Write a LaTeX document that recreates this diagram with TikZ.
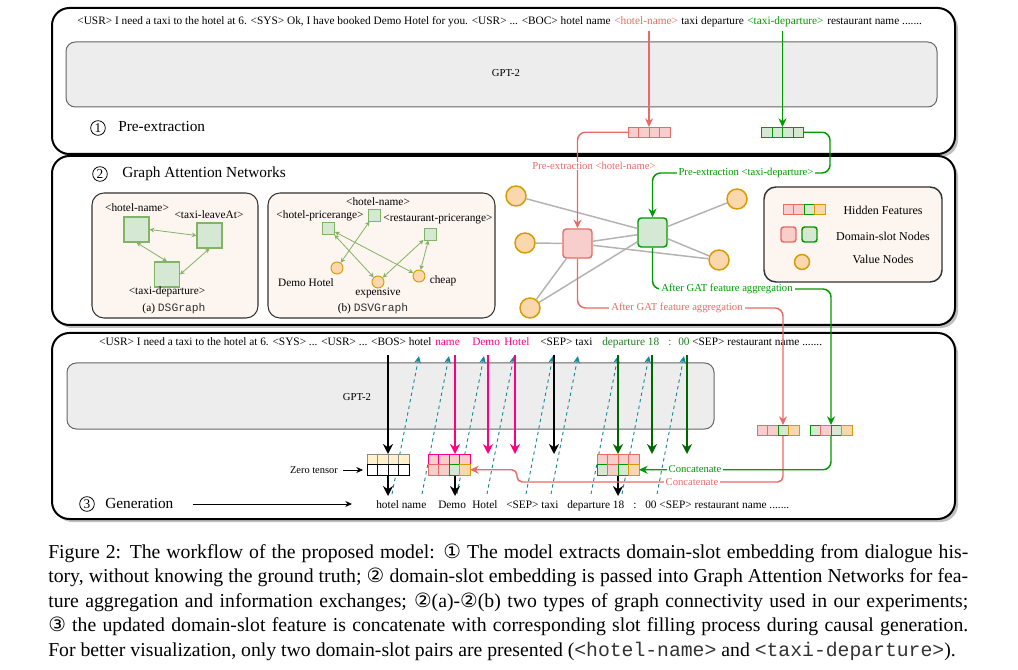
\documentclass[tikz,border=0pt]{standalone}
\usepackage{fontspec}
\setmainfont{Liberation Serif}
\setmonofont{Liberation Mono}
\newfontfamily\circfont{DejaVu Sans}
\usetikzlibrary{arrows.meta}
\definecolor{cred}{HTML}{EA6B66}
\definecolor{credfill}{HTML}{F8CECC}
\definecolor{cgreen}{HTML}{009900}
\definecolor{cgreenfill}{HTML}{D5E8D4}
\definecolor{cgreenlight}{HTML}{82B366}
\definecolor{corange}{HTML}{D79B00}
\definecolor{corangefill}{HTML}{FAD7AC}
\definecolor{cmag}{HTML}{FF0080}
\definecolor{cdkgreen}{HTML}{006600}
\definecolor{ctgreen}{HTML}{1F7F1F}
\definecolor{cteal}{HTML}{1A8A9A}
\definecolor{cgpt}{HTML}{EDEDED}
\definecolor{cpeach}{HTML}{FDF5EF}
\definecolor{cyel}{HTML}{FFF2CC}
\definecolor{cgray}{HTML}{B3B3B3}
\newcommand\cellrow[3]{\foreach \s [count=\i from 0] in {#3} {\draw[cell,\s] ({#1+10.5*\i},#2) rectangle +(10.5,10.5);}}
\tikzset{
 panel/.style={draw=black, line width=1.5pt, rounded corners=13pt, fill=white},
 pshadow/.style={fill=black!25, rounded corners=13pt},
 gpt/.style={draw=black!60, fill=cgpt, line width=0.75pt, rounded corners=7pt},
 txt/.style={font=\fontsize{8.5}{10}\selectfont, inner sep=0pt, anchor=base west},
 lbl/.style={font=\fontsize{8.5}{10}\selectfont, inner sep=0pt},
 clab/.style={font=\fontsize{8}{9.5}\selectfont, fill=white, inner xsep=1.5pt, inner ysep=0.3pt},
 ttl/.style={font=\fontsize{11.5}{13}\selectfont, inner sep=0pt, anchor=base west},
 numc/.style={circle, draw=black, line width=0.6pt, minimum size=11pt, inner sep=0pt, font=\fontsize{10}{11}\selectfont},
 cell/.style={line width=0.7pt},
 rc/.style={fill=credfill, draw=cred},
 gc/.style={fill=cgreenfill, draw=cgreen},
 oc/.style={fill=corangefill, draw=corange},
 mc/.style={fill=credfill, draw=cmag},
 yc/.style={fill=cyel, draw=black!45},
 wc/.style={fill=white, draw=black},
 vecbox/.style={minimum width=31.5pt, minimum height=7.875pt, inner sep=0pt, outer sep=0pt},
 vecbb/.style={minimum width=31.5pt, minimum height=15.75pt, inner sep=0pt, outer sep=0pt},
 redln/.style={draw=cred, line width=1.1pt, rounded corners=6pt},
 grnln/.style={draw=cgreen, line width=1.1pt, rounded corners=6pt},
 endarr/.style={-{Stealth[length=6.5pt,width=6pt]}},
 bigarr/.style={line width=1.1pt, -{Stealth[length=7.5pt,width=7.5pt]}},
 dsr/.style={draw=cred, fill=credfill, line width=1.1pt, rounded corners=2.5pt, minimum size=21.75pt, inner sep=0pt},
 dsg/.style={draw=cgreen, fill=cgreenfill, line width=1.1pt, rounded corners=2.5pt, minimum size=21.75pt, inner sep=0pt},
 valn/.style={circle, draw=corange, fill=corangefill, line width=1.1pt, minimum size=15pt, inner sep=0pt},
 gedge/.style={draw=cgray, line width=1.1pt},
 sqa/.style={draw=cgreenlight, fill=cgreenfill, line width=0.8pt, minimum size=18.75pt, inner sep=0pt},
 sqb/.style={draw=cgreenlight, fill=cgreenfill, line width=0.7pt, minimum size=9pt, inner sep=0pt},
 valb/.style={circle, draw=corange, fill=corangefill, line width=0.7pt, minimum size=9pt, inner sep=0pt},
 biarr/.style={draw=cgreenlight, line width=0.6pt, {Stealth[length=3.5pt,width=3.5pt]}-{Stealth[length=3.5pt,width=3.5pt]}},
 subbox/.style={draw=black!80, fill=cpeach, line width=0.8pt, rounded corners=9pt},
 dasharr/.style={draw=cteal, line width=0.7pt, dash pattern=on 2.5pt off 2.5pt, -{Stealth[length=5.5pt,width=5pt]}},
 capl/.style={font=\fontsize{14.8}{17}\selectfont, inner sep=0pt, anchor=base west},
 legt/.style={font=\fontsize{9}{11}\selectfont, inner sep=0pt},
}
\newcommand\mono[1]{{\color{black!80}\texttt{#1}}}
\begin{document}
\begin{tikzpicture}[x=0.75pt,y=-0.75pt]
\useasboundingbox (0,0) rectangle (1018,670);
\fill[white] (0,0) rectangle (1018,670);
% ---------------- panels
\fill[pshadow] (55,11) rectangle (958,157);
\draw[panel] (52,8) rectangle (955,154);
\fill[pshadow] (55,159) rectangle (958,328);
\draw[panel] (52,156) rectangle (955,325);
\fill[pshadow] (55,336) rectangle (958,522);
\draw[panel] (52,333) rectangle (955,519);

% ---------------- panel 1
\draw[gpt] (66,42) rectangle (937,107);
\node[lbl, font=\fontsize{8}{9}\selectfont] (gptl1) at (506,73) {GPT-2};
\node[txt, anchor=base east] (t1a) at (611,25) {<USR> I need a taxi to the hotel at 6. <SYS> Ok, I have booked Demo Hotel for you. <USR> ... <BOC> hotel name};
\node[txt, text=cred] (t1b) at (614,25) {<hotel-name>};
\node[txt] (t1c) at (681,25) {taxi departure};
\node[txt, text=cgreen] (t1d) at (747,25) {<taxi-departure>};
\node[txt] (t1e) at (827,25) {restaurant name .......};
\node[numc] (n1) at (98,128) {1};
\node[ttl] (ttl1) at (118,132) {Pre-extraction};
\node[vecbox] (hv) at (649,132.25) {};
\node[vecbox] (tv) at (782.5,132.25) {};
\coordinate (hn0) at (649,31);
\coordinate (tn0) at (782.5,31);
\draw[draw=cred, line width=0.8pt, endarr] (hn0) -- (hv.north);
\draw[draw=cgreen, line width=0.8pt, endarr] (tn0) -- (tv.north);

% ---------------- panel 2
\node[numc] (n2) at (100,174) {2};
\node[ttl] (ttl2) at (122,178) {Graph Attention Networks};
% (a)
\draw[subbox] (92,193) rectangle (258,318);
\node[sqa] (aH) at (136.5,229.5) {};
\node[sqa] (aL) at (209.5,235.5) {};
\node[sqa] (aD) at (167,274.5) {};
\node[lbl] (aHl) at (137,208) {<hotel-name>};
\node[lbl] (aLl) at (209,215) {<taxi-leaveAt>};
\node[lbl] (aDl) at (167,292) {<taxi-departure>};
\node[lbl] (acap) at (174,309) {(a) \mono{DSGraph}};
\draw[biarr] (aH.east) -- (aL.west);
\draw[biarr] (aH.south) -- (aD.north);
\draw[biarr] (aL.south) -- (aD.east);
% (b)
\draw[subbox] (268,193) rectangle (495,318);
\node[sqb] (bH) at (374,215) {};
\node[sqb] (bP) at (328.5,228.5) {};
\node[sqb] (bR) at (430,234) {};
\node[valb] (bDH) at (337,268) {};
\node[valb] (bE) at (378,282) {};
\node[valb] (bC) at (419,276) {};
\node[lbl] (bHl) at (378,202) {<hotel-name>};
\node[lbl] (bPl) at (320,216) {<hotel-pricerange>};
\node[lbl] (bRl) at (438,219) {<restaurant-pricerange>};
\node[lbl] (bDHl) at (306,283) {Demo Hotel};
\node[lbl] (bEl) at (378,293) {expensive};
\node[lbl] (bCl) at (443,281) {cheap};
\node[lbl] (bcap) at (373,309) {(b) \mono{DSVGraph}};
\draw[biarr] (bH) -- (bDH);
\draw[biarr] (bP) -- (bE);
\draw[biarr] (bP) -- (bC);
\draw[biarr] (bR) -- (bE);
\draw[biarr] (bR) -- (bC);
% big graph
\node[dsr] (rn) at (577.5,243.5) {};
\node[dsg] (gn) at (652.5,232.5) {};
\node[valn] (v1) at (516,196) {};
\node[valn] (v2) at (525,243) {};
\node[valn] (v3) at (530,308) {};
\node[valn] (v4) at (737,199) {};
\node[valn] (v5) at (719,260) {};
\draw[gedge] (v1) -- (gn);
\draw[gedge] (v2) -- (rn);
\draw[gedge] (v3) -- (rn);
\draw[gedge] (v3) -- (gn);
\draw[gedge] (rn) -- (gn);
\draw[gedge] (rn) -- (v5);
\draw[gedge] (gn) -- (v4);
\draw[gedge] (gn) -- (v5);
% legend
\draw[subbox, draw=black!80, line width=1.1pt] (764,187) rectangle (942,282);
\cellrow{783}{204}{rc,rc,gc,oc}
\node[legt] (lg1) at (883,210) {Hidden Features};
\node[dsr, minimum size=11.25pt, rounded corners=2pt] (lgr) at (788.5,234.5) {};
\node[dsg, minimum size=11.25pt, rounded corners=2pt] (lgg) at (809.5,234.5) {};
\node[legt] (lg2) at (883,236) {Domain-slot Nodes};
\node[valn, minimum size=11.25pt] (lgv) at (802,262) {};
\node[legt] (lg3) at (883,259) {Value Nodes};

% ---------------- panel 3
\draw[gpt] (67,363) rectangle (714,429);
\node[lbl, font=\fontsize{8}{9}\selectfont] (gptl2) at (357,397) {GPT-2};
\node[txt] (u1) at (99,346) {<USR> I need a taxi to the hotel at 6. <SYS> ... <USR> ... <BOS> hotel};
\node[txt, text=cmag] (u2) at (435,346) {name};
\node[txt, text=cmag] (u3) at (472,346) {Demo};
\node[txt, text=cmag] (u4) at (504,346) {Hotel};
\node[txt] (u5) at (540,346) {<SEP> taxi};
\node[txt, text=ctgreen] (u6) at (602,346) {departure 18};
\node[txt, text=ctgreen] (u7) at (668,346) {:};
\node[txt, text=ctgreen] (u8) at (678,346) {00};
\node[txt] (u9) at (692,346) {<SEP> restaurant name .......};
\node[txt] (o1) at (376,508) {hotel name};
\node[txt] (o2) at (438,508) {Demo};
\node[txt] (o3) at (472,508) {Hotel};
\node[txt] (o4) at (506,508) {<SEP> taxi};
\node[txt] (o5) at (567,508) {departure 18};
\node[txt] (o6) at (633,508) {:};
\node[txt] (o7) at (645,508) {00 <SEP> restaurant name .......};
\node[numc] (n3) at (87,504) {3};
\node[ttl] (ttl3) at (105,508) {Generation};
\coordinate (ga0) at (193,504);
\coordinate (ga1) at (352,504);
\draw[line width=0.6pt, -{Stealth[length=5pt,width=4.5pt]}] (ga0) -- (ga1);
\node[lbl, font=\fontsize{7.8}{9}\selectfont, anchor=east] (zl) at (338,470) {Zero tensor};
\coordinate (za1) at (363,470);
\draw[line width=0.6pt, -{Stealth[length=5pt,width=4.5pt]}] ([xshift=3.75pt]zl.east) -- (za1);
% vectors (named)
\node[vecbb] (zt) at (388,464.5) {};
\node[vecbb] (mv) at (449,464.5) {};
\node[vecbb] (gv) at (618,464.5) {};
\node[vecbox] (rv) at (778,430.25) {};
\node[vecbox] (gw) at (831,430.25) {};
% dashed arrows
\foreach \t [count=\k] in {419,449,484,514,553,578,618,649,684} {
  \coordinate (dl\k) at (\t-27,494);
  \coordinate (dh\k) at (\t,356);
  \draw[dasharr] (dl\k) -- (dh\k);
}
% solid arrows
\coordinate (sb1) at (388,355);
\coordinate (sm1) at (455,355); \coordinate (em1) at (455,454);
\coordinate (sm2) at (488,355); \coordinate (em2) at (488,454);
\coordinate (sm3) at (515,355); \coordinate (em3) at (515,454);
\coordinate (sb2) at (554,355); \coordinate (eb2) at (554,454);
\coordinate (sg1) at (618,355);
\coordinate (sg2) at (652,355); \coordinate (eg2) at (652,454);
\coordinate (sg3) at (687,355); \coordinate (eg3) at (687,454);
\draw[bigarr, draw=black] (sb1) -- (zt.north);
\draw[bigarr, draw=cmag] (sm1) -- (em1);
\draw[bigarr, draw=cmag] (sm2) -- (em2);
\draw[bigarr, draw=cmag] (sm3) -- (em3);
\draw[bigarr, draw=black] (sb2) -- (eb2);
\draw[bigarr, draw=cdkgreen] (sg1) -- (gv.north);
\draw[bigarr, draw=cdkgreen] (sg2) -- (eg2);
\draw[bigarr, draw=cdkgreen] (sg3) -- (eg3);
\coordinate (ob1) at (388,496);
\coordinate (mb0) at (455,475); \coordinate (mb1) at (455,496);
\coordinate (gb1) at (618,496);
\draw[bigarr, draw=black] (zt.south) -- (ob1);
\draw[bigarr, draw=black] (mb0) -- (mb1);
\draw[bigarr, draw=black] (gv.south) -- (gb1);
% cells
\cellrow{367}{454}{yc,yc,yc,yc}
\cellrow{367}{464.5}{wc,wc,wc,wc}
\cellrow{428}{454}{mc,mc,mc,mc}
\cellrow{428}{464.5}{rc,rc,gc,oc}
\cellrow{597}{454}{rc,rc,rc,rc}
\cellrow{597}{464.5}{gc,rc,gc,oc}

% ---------------- connectors across panels
\coordinate (g1) at (830,173);
\draw[redln, endarr] (hv.west) -| (rn.north);
\draw[grnln, endarr] (tv.east) -| (g1) -| (gn.north);
\node[clab, text=cred] (lp1) at (594,166) {Pre-extraction <hotel-name>};
\node[clab, text=cgreen] (lp2) at (746,173) {Pre-extraction <taxi-departure>};
\coordinate (ra1) at (783,308);
\coordinate (ra2) at (783,425);
\draw[redln, endarr] (rn.south) |- (ra1) -- (ra2);
\coordinate (gg1) at (831,289);
\draw[grnln, endarr] (gn.south) |- (gg1) -- (gw.north);
\node[clab, text=cgreen] (la2) at (727,289) {After GAT feature aggregation};
\node[clab, text=cred] (la1) at (677,308) {After GAT feature aggregation};
\coordinate (rb) at (783,435.5);
\coordinate (rc1) at (517,482);
\coordinate (mvE) at (470,469.75);
\draw[redln, rounded corners=4pt, endarr] (rb) |- (rc1) |- (mvE);
\coordinate (gvE) at (639,469.75);
\draw[grnln, endarr] (gw.south) |- (gvE);
\node[clab, text=cgreen] (lc2) at (695,469) {Concatenate};
\node[clab, text=cred] (lc1) at (692,482) {Concatenate};
% top vector cells
\cellrow{628}{127}{rc,rc,rc,rc}
\cellrow{761.5}{127}{gc,gc,gc,gc}
\cellrow{757}{425}{rc,rc,gc,oc}
\cellrow{810}{425}{gc,rc,gc,oc}

% ---------------- caption
\node[capl] (c1) at (48,558) {\makebox[690pt][s]{Figure 2: The workflow of the proposed model: {\circfont ①} The model extracts domain-slot embedding from dialogue his-}};
\node[capl] (c2) at (48,582.5) {\makebox[690pt][s]{tory, without knowing the ground truth; {\circfont ②} domain-slot embedding is passed into Graph Attention Networks for fea-}};
\node[capl] (c3) at (48,607) {\makebox[690pt][s]{ture aggregation and information exchanges; {\circfont ②}(a)-{\circfont ②}(b) two types of graph connectivity used in our experiments;}};
\node[capl] (c4) at (48,631.5) {\makebox[690pt][s]{{\circfont ③} the updated domain-slot feature is concatenate with corresponding slot filling process during causal generation.}};
\node[capl] (c5) at (48,656) {For better visualization, only two domain-slot pairs are presented (\mono{<hotel-name>} and \mono{<taxi-departure>}).};
\end{tikzpicture}
\end{document}
